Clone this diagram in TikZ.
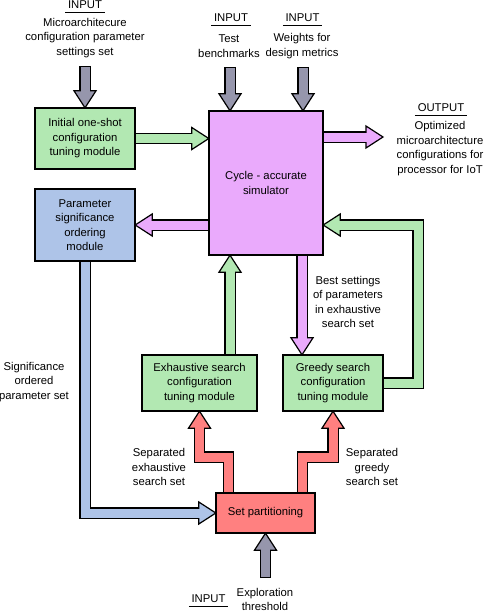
\documentclass[tikz,border=0pt]{standalone}
\usepackage{fontspec}
\setmainfont{Liberation Sans}
\usetikzlibrary{calc}
\definecolor{cgreen}{RGB}{178,232,178}
\definecolor{cpink}{RGB}{234,170,252}
\definecolor{cblue}{RGB}{174,196,232}
\definecolor{cred}{RGB}{255,128,128}
\definecolor{cgray}{RGB}{150,150,172}
\newcommand{\fs}{\fontsize{11.3}{14.5}\selectfont}
% #1 colour, #2 path up to last corner P, #3 P, #4 tip
\newcommand{\blockarrow}[4]{%
  \path #3 coordinate (ba-p) #4 coordinate (ba-t);
  \coordinate (ba-b) at ($(ba-t)!17pt!(ba-p)$);
  \draw[black, line width=11.4pt, line join=miter, shorten <=-1.2pt] #2 -- (ba-b);
  \filldraw[fill=#1, draw=black, line width=1.2pt, line join=miter]
    (ba-t) -- ($(ba-b)!11pt!90:(ba-t)$) -- ($(ba-b)!11pt!-90:(ba-t)$) -- cycle;
  \draw[#1, line width=9pt, line join=miter] #2 -- ($(ba-b)!3pt!(ba-t)$);
}
\tikzset{
  box/.style={draw=black, line width=1.2pt, align=center, inner sep=0pt, font=\fs},
  txt/.style={align=center, inner sep=0pt, font=\fs},
  ulabel/.style={inner xsep=2.6pt, inner ysep=3.8pt, text height=8.1pt, text depth=0pt, font=\fs},
  uline/.style={line width=0.8pt}
}
\begin{document}
\begin{tikzpicture}[x=1pt,y=-1pt]
\useasboundingbox (0,0) rectangle (485,613);

% ---- box positions (centres) ----
\path (85,138.5) coordinate (pinit)
      (266,183) coordinate (psim)
      (85,225) coordinate (pparam)
      (199.5,383) coordinate (pexh)
      (333,383) coordinate (pgre)
      (265.5,513) coordinate (pset);

% invisible copies for anchors
\node[minimum width=100pt, minimum height=61pt, inner sep=0pt] (init) at (pinit) {};
\node[minimum width=114pt, minimum height=144pt, inner sep=0pt] (sim) at (psim) {};
\node[minimum width=100pt, minimum height=72pt, inner sep=0pt] (param) at (pparam) {};
\node[minimum width=115pt, minimum height=56pt, inner sep=0pt] (exh) at (pexh) {};
\node[minimum width=100pt, minimum height=56pt, inner sep=0pt] (gre) at (pgre) {};
\node[minimum width=99pt, minimum height=40pt, inner sep=0pt] (setp) at (pset) {};

% ---- helper coordinates ----
\coordinate (s1) at (85,67);
\coordinate (s2) at (230,68);
\coordinate (s3) at (303,68);
\coordinate (s4) at (265.5,577);
\coordinate (outtip) at (383,137);
\coordinate (xup) at (230,0);
\coordinate (xdn) at (302,0);
\coordinate (loopA) at (418,383);
\coordinate (loopB) at (418,225);
\coordinate (jl1) at (228.5,457);
\coordinate (jl2) at (199.5,457);
\coordinate (jr1) at (302.5,457);
\coordinate (jr2) at (333,457);

% ---- block arrows ----
\blockarrow{cgray}{(s1)}{(s1)}{(init.north)}
\blockarrow{cgray}{(s2)}{(s2)}{(sim.north -| s2)}
\blockarrow{cgray}{(s3)}{(s3)}{(sim.north -| s3)}
\blockarrow{cgray}{(s4)}{(s4)}{(setp.south)}
\blockarrow{cgreen}{(init.center)}{(init.center)}{(init.center -| sim.west)}
\blockarrow{cpink}{(sim.center |- outtip)}{(sim.center |- outtip)}{(outtip)}
\blockarrow{cpink}{(sim.center |- param.center)}{(sim.center |- param.center)}{(param.east)}
\blockarrow{cgreen}{(exh.center -| xup)}{(exh.center -| xup)}{(sim.south -| xup)}
\blockarrow{cpink}{(sim.center -| xdn)}{(sim.center -| xdn)}{(gre.north -| xdn)}
\blockarrow{cgreen}{(gre.center) -- (loopA) -- (loopB)}{(loopB)}{(sim.east |- loopB)}
\blockarrow{cblue}{(param.center) -- (param.center |- setp.center)}{(param.center |- setp.center)}{(setp.west)}
\blockarrow{cred}{(setp.center -| jl1) -- (jl1) -- (jl2)}{(jl2)}{(exh.south)}
\blockarrow{cred}{(setp.center -| jr1) -- (jr1) -- (jr2)}{(jr2)}{(gre.south)}

% ---- boxes ----
\node[box, fill=cgreen, minimum width=100pt, minimum height=61pt] at (pinit) {Initial one-shot\\configuration\\tuning module};
\node[box, fill=cpink, minimum width=114pt, minimum height=144pt] at (psim) {Cycle - accurate\\simulator};
\node[box, fill=cblue, minimum width=100pt, minimum height=72pt] at (pparam) {Parameter\\significance\\ordering\\module};
\node[box, fill=cgreen, minimum width=115pt, minimum height=56pt] at (pexh) {Exhaustive search\\configuration\\tuning module};
\node[box, fill=cgreen, minimum width=100pt, minimum height=56pt] at (pgre) {Greedy search\\configuration\\tuning module};
\node[box, fill=cred, minimum width=99pt, minimum height=40pt] at (pset) {Set partitioning};

% ---- labels ----
\node[ulabel] (in1lbl) at (85,4.5) {INPUT};
\draw[uline] (in1lbl.south west) -- (in1lbl.south east);
\node[txt] (in1txt) at (85,38) {Microarchitecure\\configuration parameter\\settings set};

\node[ulabel] (in2lbl) at (231,17.5) {INPUT};
\draw[uline] (in2lbl.south west) -- (in2lbl.south east);
\node[txt] (in2txt) at (229,46) {Test\\benchmarks};

\node[ulabel] (in3lbl) at (302.5,17.5) {INPUT};
\draw[uline] (in3lbl.south west) -- (in3lbl.south east);
\node[txt] (in3txt) at (302,46) {Weights for\\design metrics};

\node[ulabel] (outlbl) at (441,107.5) {OUTPUT};
\draw[uline] (outlbl.south west) -- (outlbl.south east);
\node[txt] (outtxt) at (440,148.5) {Optimized\\microarchitecture\\configurations for\\processor for IoT};

\node[txt] (sigtxt) at (34,382) {Significance\\ordered\\parameter set};
\node[txt] (bestxt) at (348,302) {Best settings\\of parameters\\in exhaustive\\search set};
\node[txt] (sepex) at (159,467) {Separated\\exhaustive\\search set};
\node[txt] (sepgr) at (372,467) {Separated\\greedy\\search set};

\node[ulabel] (in4lbl) at (208.5,598) {INPUT};
\draw[uline] (in4lbl.south west) -- (in4lbl.south east);
\node[txt] (exptxt) at (265,599.5) {Exploration\\threshold};
\end{tikzpicture}
\end{document}
